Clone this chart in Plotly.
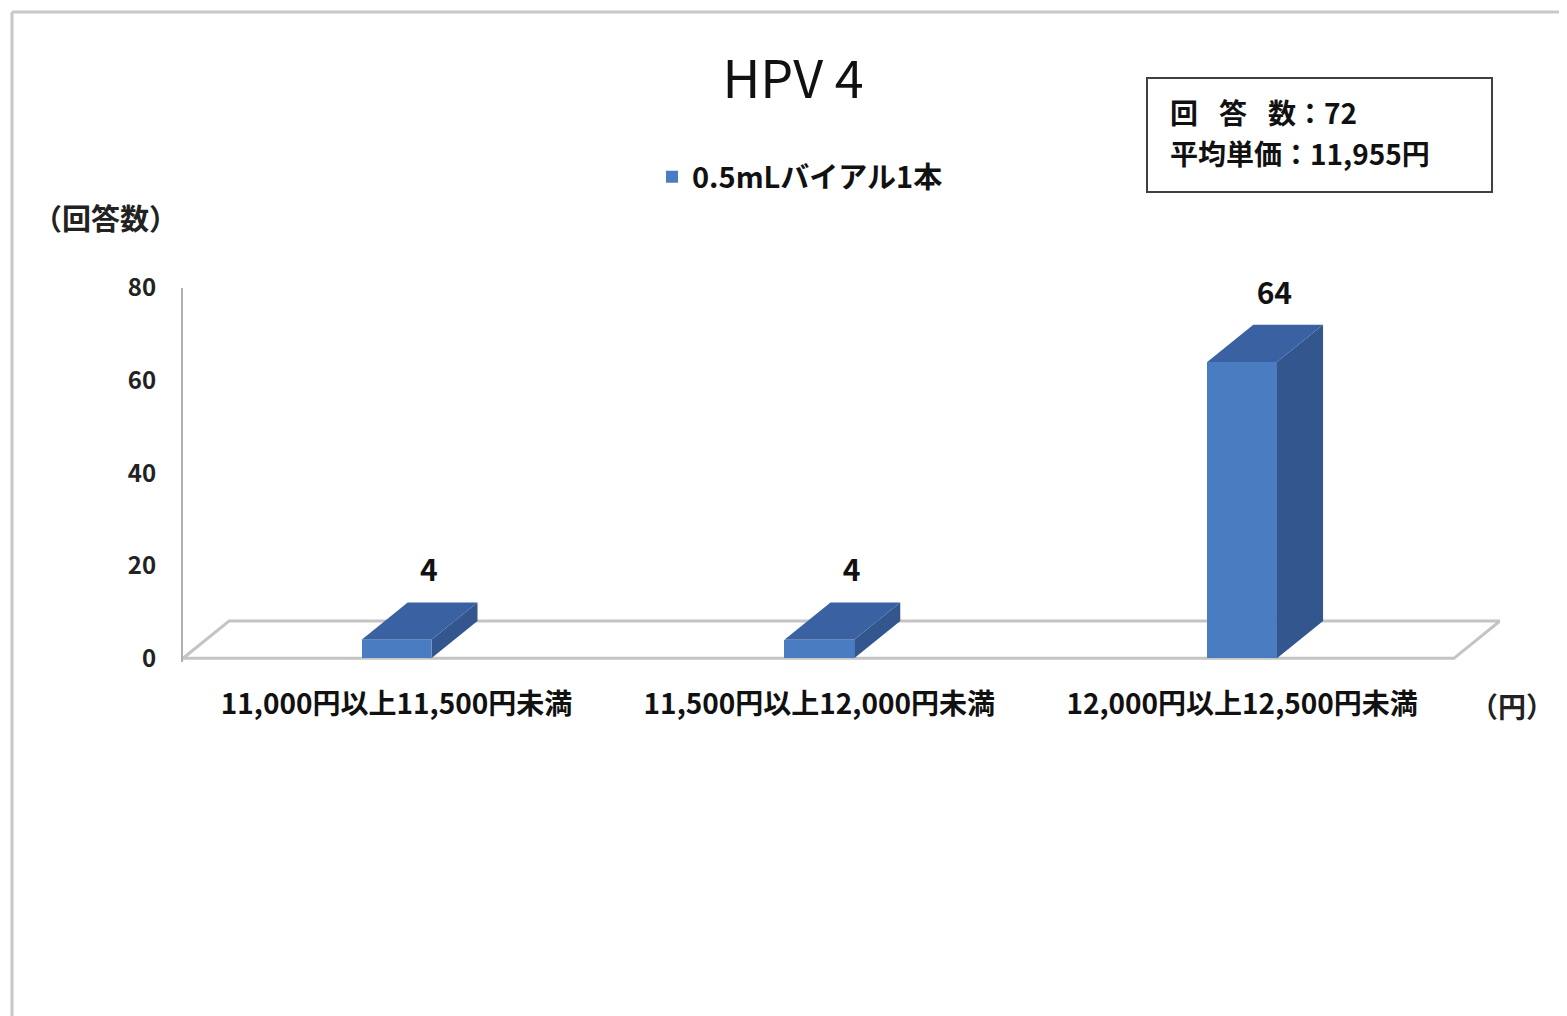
import plotly.graph_objects as go

# ---- data ----
categories = ["11,000円以上11,500円未満", "11,500円以上12,000円未満", "12,000円以上12,500円未満"]
counts = [4, 4, 64]
series_name = "0.5mLバイアル1本"
title_text = "HPV 4"
y_ticks = [0, 20, 40, 60, 80]
n_responses = 72
avg_price = "11,955"

# ---- geometry (pseudo 3D depth, in axis units) ----
W = 0.165          # bar width
DX = 0.109         # depth offset in x units
DY = 8.06          # depth offset in y units
X0, X1 = -0.505, 2.61
Y0, Y1 = -0.8, 80

FRONT = "#4a7cc2"
SIDE = "#33568f"
TOP = "#3a62a3"
FONT = "Noto Sans CJK JP"

xs = list(range(len(categories)))

fig = go.Figure()

# front faces (real bar trace)
fig.add_trace(go.Bar(
    x=xs, y=counts, width=W, name=series_name,
    marker=dict(color=FRONT, line=dict(width=0)),
    hoverinfo="skip",
))

# side and top faces derived from the data
for i, v in zip(xs, counts):
    r = i + W / 2
    l = i - W / 2
    fig.add_trace(go.Scatter(
        x=[r, r + DX, r + DX, r, r], y=[0, DY, v + DY, v, 0],
        mode="lines", fill="toself", fillcolor=SIDE,
        line=dict(width=0, color=SIDE), showlegend=False, hoverinfo="skip"))
    fig.add_trace(go.Scatter(
        x=[l, r, r + DX, l + DX, l], y=[v, v, v + DY, v + DY, v],
        mode="lines", fill="toself", fillcolor=TOP,
        line=dict(width=0, color=TOP), showlegend=False, hoverinfo="skip"))

# value labels
fig.add_trace(go.Scatter(
    x=[i + DX * 0.7 for i in xs], y=[v + DY + 6.2 for v in counts],
    mode="text", text=[str(v) for v in counts],
    textfont=dict(family=FONT, size=30, color="#111111", weight="bold"),
    showlegend=False, hoverinfo="skip", cliponaxis=False))

# floor (parallelogram)
floor_path = (f"M {X0},0 L {X1 - DX},0 L {X1},{DY} "
              f"L {X0 + DX},{DY} Z")
shapes = [dict(type="path", path=floor_path, xref="x", yref="y",
               line=dict(color="#c4c4c4", width=3), fillcolor="white",
               layer="below")]

# page offset (the html body has an 8px margin)
OFF = 8
FW, FH = 1567, 1016
PL, PR, PT, PB = 183 - OFF, 1500 - OFF, 288 - OFF, 662 - OFF
def px(x):
    return (x - OFF - PL) / (PR - PL)
def py(y):
    return (PB - (y - OFF)) / (PB - PT)

# stats box
shapes.append(dict(type="rect", xref="paper", yref="paper",
                   x0=px(1147), x1=px(1492), y0=py(192), y1=py(78),
                   line=dict(color="#404040", width=2), fillcolor="white"))
# outer frame lines
shapes.append(dict(type="line", xref="paper", yref="paper",
                   x0=px(12), x1=px(1575), y0=py(12), y1=py(12),
                   line=dict(color="#c8c8c8", width=3)))
shapes.append(dict(type="line", xref="paper", yref="paper",
                   x0=px(12), x1=px(12), y0=py(12), y1=py(1030),
                   line=dict(color="#c8c8c8", width=3)))

SP = "\u2002\u2005"
annotations = [
    dict(text=f"回{SP}答{SP}数：{n_responses}", xref="paper", yref="paper",
         x=px(1168), y=py(112), xanchor="left", yanchor="middle", showarrow=False,
         font=dict(family=FONT, size=28, color="#111111", weight="bold")),
    dict(text=f"平均単価：{avg_price}円", xref="paper", yref="paper",
         x=px(1168), y=py(153), xanchor="left", yanchor="middle", showarrow=False,
         font=dict(family=FONT, size=28, color="#111111", weight="bold")),
    dict(text="（回答数）", xref="paper", yref="paper",
         x=px(105), y=py(217), xanchor="center", yanchor="middle", showarrow=False,
         font=dict(family=FONT, size=29, color="#222222", weight="bold")),
    dict(text="（円）", xref="paper", yref="paper",
         x=px(1512), y=py(706), xanchor="center", yanchor="middle", showarrow=False,
         font=dict(family=FONT, size=28, color="#222222", weight="bold")),
]

fig.update_layout(
    width=FW, height=FH,
    margin=dict(l=PL, r=FW - PR, t=PT, b=FH - PB),
    paper_bgcolor="white", plot_bgcolor="white",
    title=dict(text=title_text, xref="paper", x=px(793), xanchor="center",
               yref="container", y=1 - (80 - OFF) / FH, yanchor="middle",
               font=dict(family=FONT, size=52, color="#111111")),
    showlegend=True,
    legend=dict(orientation="h", x=px(652), y=py(177), xanchor="left", yanchor="middle",
                font=dict(family=FONT, size=29, color="#111111", weight="bold"),
                bgcolor="rgba(0,0,0,0)"),
    xaxis=dict(range=[X0, X1], tickvals=xs, ticktext=categories,
               showline=False, showgrid=False, zeroline=False, ticks="",
               ticklabelstandoff=23,
               tickfont=dict(family=FONT, size=28, color="#111111", weight="bold")),
    yaxis=dict(range=[Y0, Y1], tickvals=y_ticks, showgrid=False, zeroline=False,
               showline=True, linecolor="#b0b0b0", linewidth=2, ticks="",
               ticklabelstandoff=20,
               tickfont=dict(family=FONT, size=24, color="#222222", weight="bold")),
    shapes=shapes, annotations=annotations,
    bargap=0,
)

fig.write_html("out.html")
